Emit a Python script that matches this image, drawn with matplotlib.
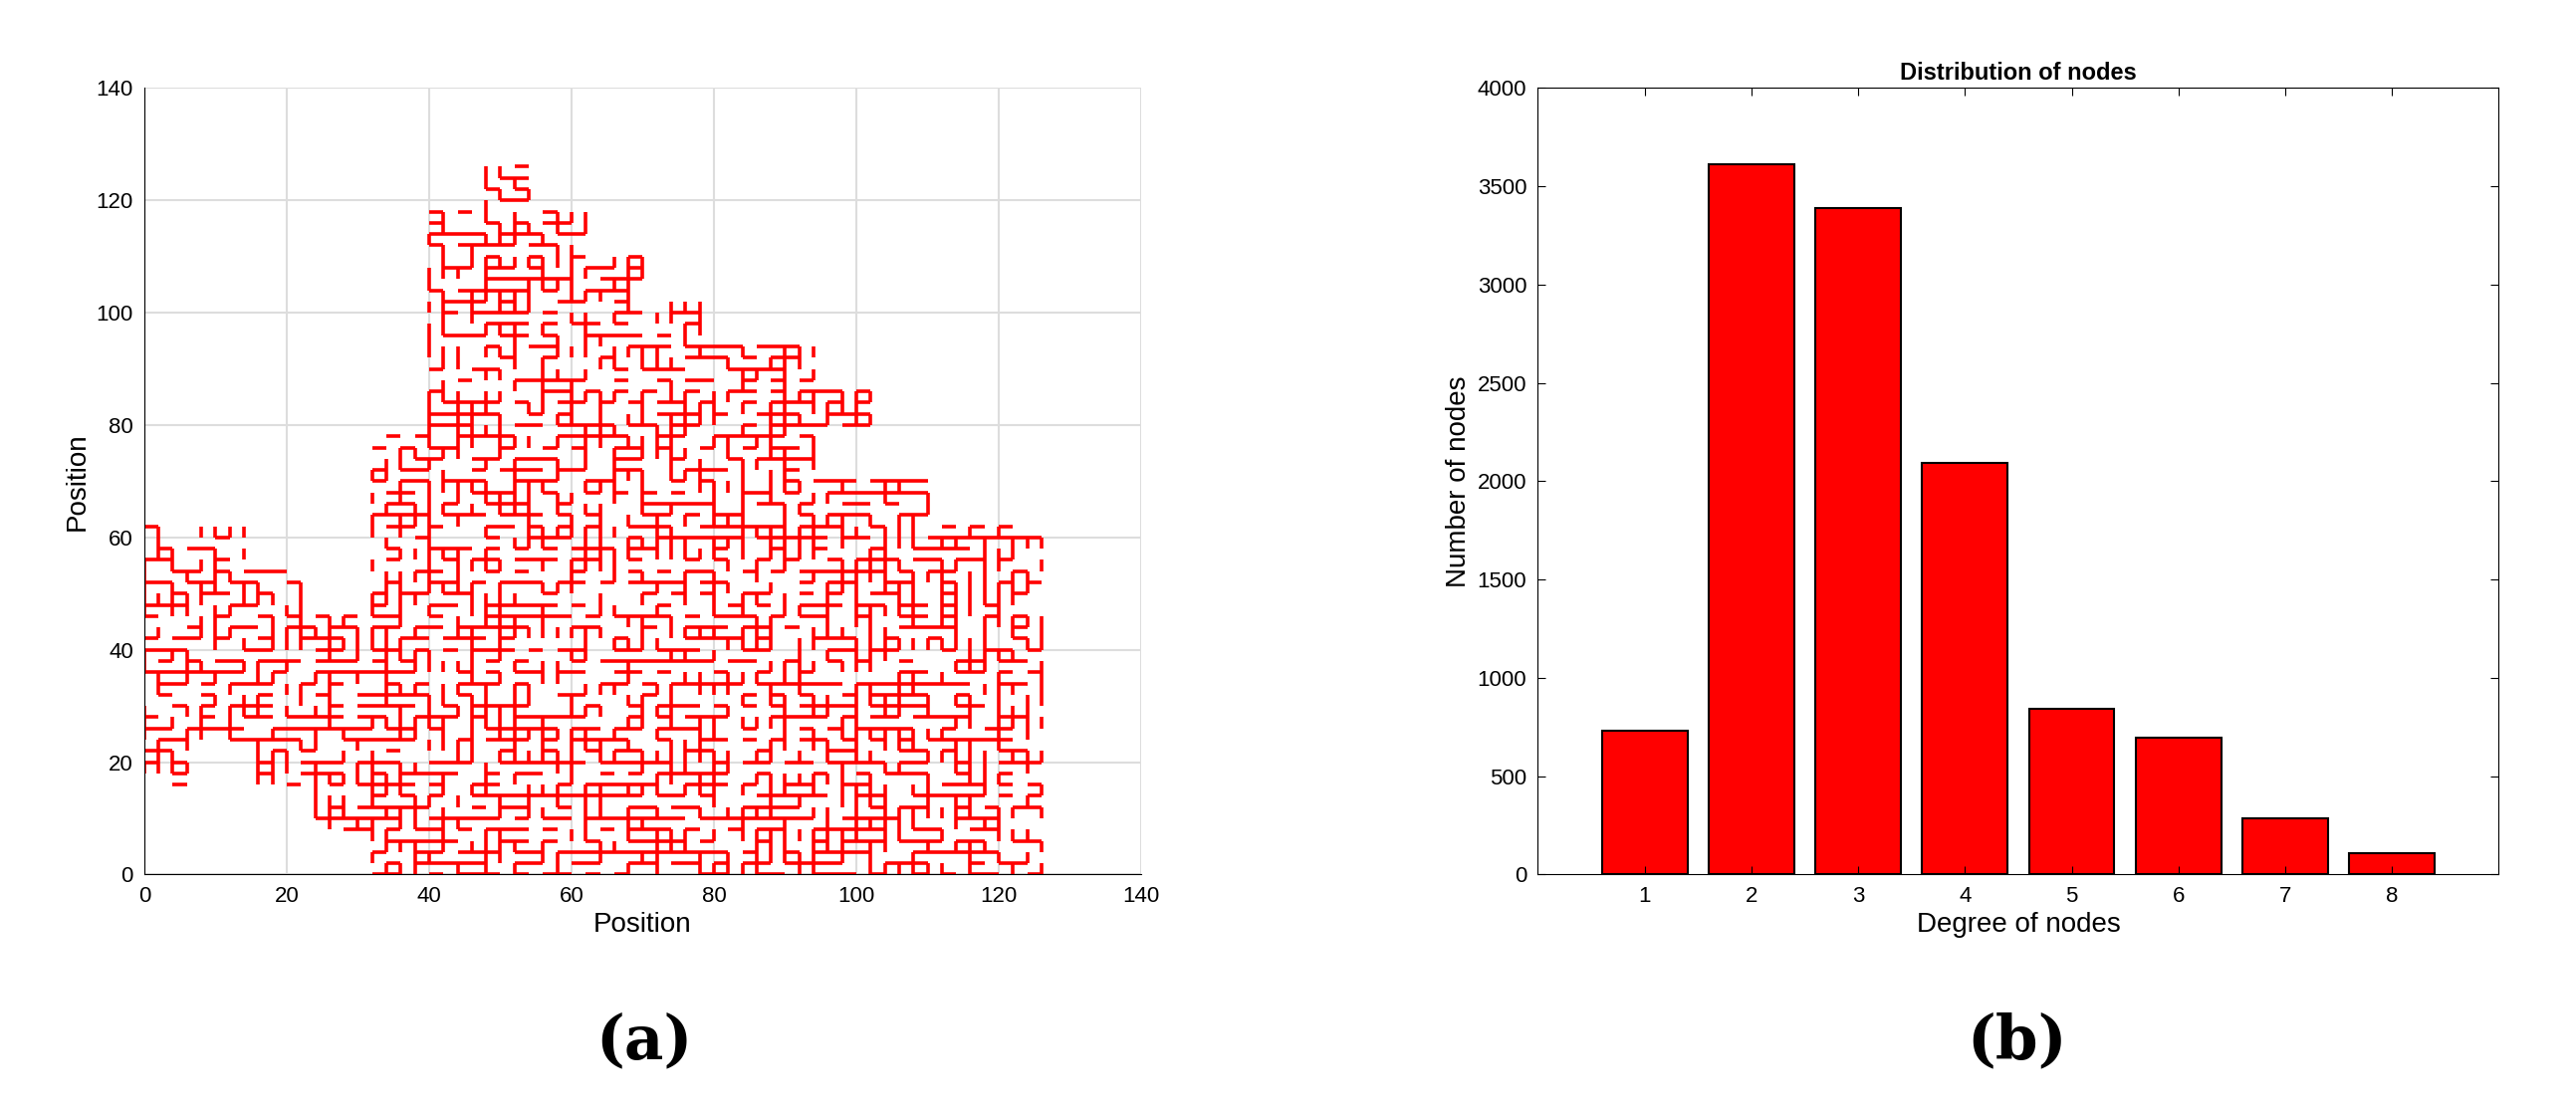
import numpy as np
import matplotlib.pyplot as plt
from matplotlib.collections import LineCollection

plt.rcParams['font.family'] = ['Liberation Sans', 'DejaVu Sans']

# ---- panel (b) data ----
degrees = [1, 2, 3, 4, 5, 6, 7, 8]
node_counts = [730, 3610, 3390, 2095, 845, 695, 285, 110]

# ---- panel (a): rough cluster outline, 8x8 cells, top row = y 120-128 ----
cluster_mask = [
    "......X.........",
    ".....XXX........",
    ".....XXXX.......",
    ".....XXXXX......",
    ".....XXXXXXX....",
    ".....XXXXXXXX...",
    "....XXXXXXXX....",
    "....XXXXXXXXXX..",
    "XX..XXXXXXXXXXXX",
    "XXX.XXXXXXXXXXXX",
    "XXXXXXXXXXXXXXXX",
    "XXXXXXXXXXXXXXXX",
    "XXXXXXXXXXXXXXXX",
    "X.XXXXXXXXXXXXXX",
    "...XXXXXXXXXXXXX",
    "....XXXXXXXXXXXX",
]
cell = 8
step = 2
edge_keep = 0.5

rng = np.random.default_rng(7)  # texture of lattice bonds inside the outline
nrows = len(cluster_mask)


def inside(x, y):
    c = int(x // cell)
    r = nrows - 1 - int(y // cell)
    if c < 0 or c >= 16 or r < 0 or r >= nrows:
        return False
    return cluster_mask[r][c] == "X"


segs = []
for x in range(0, 129, step):
    for y in range(0, 128, step):
        if not inside(x, y):
            continue
        if inside(x + step, y) and rng.random() < edge_keep:
            segs.append([(x, y), (x + step, y)])
        if inside(x, y + step) and rng.random() < edge_keep:
            segs.append([(x, y), (x, y + step)])

fig = plt.figure(figsize=(25.87, 11.19), dpi=100)
ax1 = fig.add_axes([0.056, 0.215, 0.387, 0.706])
ax2 = fig.add_axes([0.597, 0.215, 0.373, 0.706])

ax1.add_collection(LineCollection(segs, colors='#ff0000', linewidths=2.6))
ax1.set_xlim(0, 140)
ax1.set_ylim(0, 140)
ax1.set_xticks(range(0, 141, 20))
ax1.set_yticks(range(0, 141, 20))
ax1.grid(True, color='#dddddd', linewidth=1.5)
ax1.set_axisbelow(True)
ax1.set_xlabel('Position', fontsize=20)
ax1.set_ylabel('Position', fontsize=20)
ax1.tick_params(labelsize=16, direction='in', length=0, pad=8)
for s in ['top', 'right']:
    ax1.spines[s].set_visible(False)

ax2.bar(degrees, node_counts, width=0.8, color='#ff0000', edgecolor='black', linewidth=1.5)
ax2.set_xlim(0, 9)
ax2.set_ylim(0, 4000)
ax2.set_xticks(degrees)
ax2.set_yticks(range(0, 4001, 500))
ax2.set_xlabel('Degree of nodes', fontsize=20)
ax2.set_ylabel('Number of nodes', fontsize=20)
ax2.set_title('Distribution of nodes', fontsize=17, fontweight='bold')
ax2.tick_params(labelsize=16, direction='in', top=True, right=True, length=6, pad=8)

fig.text(0.25, 0.05, '(a)', fontsize=44, fontweight='bold', ha='center', family='DejaVu Serif')
fig.text(0.783, 0.05, '(b)', fontsize=44, fontweight='bold', ha='center', family='DejaVu Serif')

fig.savefig('out.png', dpi=100)
